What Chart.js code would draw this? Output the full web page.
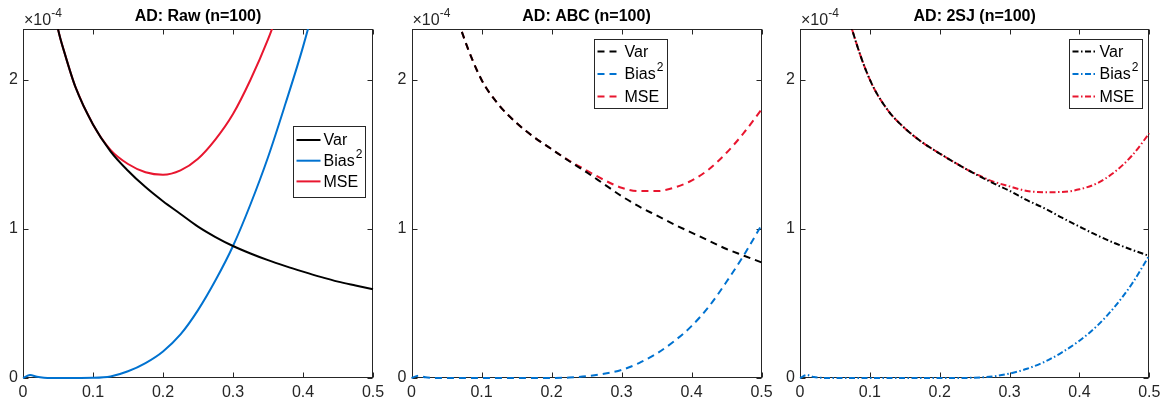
<!DOCTYPE html>
<html>
<head>
<meta charset="utf-8">
<script src="https://cdn.jsdelivr.net/npm/chart.js@4.4.1/dist/chart.umd.min.js"></script>
<style>
  body { margin: 0; background: #fff; width: 1166px; height: 404px; overflow: hidden; position: relative; }
  canvas { position: absolute; top: 0; }
</style>
</head>
<body>
<canvas id="raw" width="390" height="404" style="left:0"></canvas>
<canvas id="abc" width="390" height="404" style="left:390px"></canvas>
<canvas id="sj" width="386" height="404" style="left:780px"></canvas>
<script>
// ---- data (units of 1e-4) ----
const xVals = [0, 0.01, 0.02, 0.03, 0.04, 0.05, 0.06, 0.075, 0.1, 0.125, 0.15, 0.175, 0.2,
  0.225, 0.25, 0.275, 0.3, 0.325, 0.35, 0.375, 0.4, 0.425, 0.45, 0.475, 0.5];
const xTicks = [0, 0.1, 0.2, 0.3, 0.4, 0.5];
const yTicks = [0, 1, 2];
const yMax = 2.34;
const seriesNames = ['Var', 'Bias^2', 'MSE'];

// AD: Raw
const rawVar  = [null, 5.5, 3.8, 3.0, 2.6, 2.34, 2.17, 1.95, 1.70, 1.52, 1.39, 1.28, 1.185, 1.10,
  1.015, 0.945, 0.885, 0.835, 0.79, 0.75, 0.713, 0.678, 0.646, 0.62, 0.595];
const rawBias = [0, 0.02, 0.008, 0.002, 0, 0, 0, 0, 0.001, 0.01, 0.045, 0.10, 0.178, 0.292,
  0.455, 0.655, 0.885, 1.165, 1.48, 1.84, 2.22, 2.66, 3.14, 3.66, 4.22];
const rawMse  = [null, 5.52, 3.81, 3.0, 2.6, 2.34, 2.17, 1.95, 1.70, 1.53, 1.435, 1.38, 1.363,
  1.392, 1.47, 1.60, 1.77, 2.0, 2.27, 2.59, 2.93, 3.34, 3.79, 4.28, 4.82];

// AD: ABC
const abcVar  = [null, 6.0, 4.3, 3.4, 2.95, 2.68, 2.5, 2.28, 2.0, 1.83, 1.71, 1.615, 1.535, 1.455,
  1.38, 1.30, 1.22, 1.15, 1.09, 1.03, 0.975, 0.92, 0.865, 0.82, 0.775];
const abcBias = [0, 0.015, 0.005, 0.001, 0, 0, 0, 0, 0, 0, 0, 0, 0, 0.003,
  0.012, 0.028, 0.054, 0.10, 0.163, 0.246, 0.348, 0.48, 0.645, 0.825, 1.025];
const abcMse  = [null, 6.0, 4.3, 3.4, 2.95, 2.68, 2.5, 2.28, 2.0, 1.83, 1.71, 1.615, 1.535, 1.458,
  1.392, 1.328, 1.276, 1.253, 1.253, 1.276, 1.323, 1.40, 1.51, 1.645, 1.80];

// AD: 2SJ
const sjVar  = [null, 6.4, 4.6, 3.6, 3.0, 2.75, 2.6, 2.33, 2.0, 1.80, 1.675, 1.58, 1.505, 1.435,
  1.37, 1.31, 1.255, 1.192, 1.138, 1.075, 1.015, 0.957, 0.905, 0.86, 0.818];
const sjBias = [0, 0.02, 0.006, 0.002, 0, 0, 0, 0, 0, 0, 0, 0, 0, 0,
  0.002, 0.01, 0.03, 0.062, 0.108, 0.172, 0.25, 0.348, 0.475, 0.63, 0.822];
const sjMse  = [null, 6.42, 4.61, 3.6, 3.0, 2.75, 2.6, 2.33, 2.0, 1.80, 1.675, 1.58, 1.505, 1.435,
  1.372, 1.32, 1.285, 1.254, 1.246, 1.247, 1.265, 1.305, 1.38, 1.49, 1.64];

// ---- styles ----
const AXIS = '#262626';
const COLORS = ['#000000', '#0072D0', '#E8162F'];
const FONT = "'Liberation Sans', Arial, Helvetica, sans-serif";
Chart.defaults.font.family = FONT;
Chart.defaults.font.size = 16;
Chart.defaults.color = AXIS;

// MATLAB 風の枠・内向き目盛り・タイトル・凡例
const matlabAxes = {
  id: 'matlabAxes',
  beforeDatasetsDraw(chart, args, o) {
    const { ctx, chartArea: a, scales: { x, y } } = chart;
    const L = Math.round(a.left) + 0.5, R = Math.round(a.right) - 0.5;
    const T = Math.round(a.top) + 0.5, B = Math.round(a.bottom) - 0.5;
    ctx.save();
    ctx.strokeStyle = AXIS;
    ctx.lineWidth = 1;
    ctx.strokeRect(L, T, R - L, B - T);
    ctx.beginPath();
    xTicks.forEach((v) => {
      const px = Math.round(x.getPixelForValue(v)) + 0.5;
      ctx.moveTo(px, B); ctx.lineTo(px, B - 5);
      ctx.moveTo(px, T); ctx.lineTo(px, T + 5);
    });
    yTicks.forEach((v) => {
      const py = Math.round(y.getPixelForValue(v)) + 0.5;
      ctx.moveTo(L, py); ctx.lineTo(L + 5, py);
      ctx.moveTo(R, py); ctx.lineTo(R - 5, py);
    });
    ctx.stroke();

    // タイトル
    ctx.fillStyle = '#000';
    ctx.font = `bold 16px ${FONT}`;
    ctx.textAlign = 'center';
    ctx.textBaseline = 'alphabetic';
    ctx.fillText(o.title, (a.left + a.right) / 2, 21);

    // 指数ラベル ×10^-4
    ctx.fillStyle = AXIS;
    ctx.textAlign = 'left';
    ctx.font = `16px ${FONT}`;
    ctx.fillText('\u00d710', a.left + 1, 25);
    const w = ctx.measureText('\u00d710').width;
    ctx.font = `12px ${FONT}`;
    ctx.fillText('-4', a.left + 1 + w, 17);
    ctx.restore();
  },
  afterDraw(chart, args, o) {
    const { ctx, chartArea: a } = chart;
    const lg = o.legend;
    const left = Math.round(a.right - lg.right - lg.w) + 0.5;
    const top = Math.round(a.top + lg.top) + 0.5;
    ctx.save();
    ctx.fillStyle = '#fff';
    ctx.fillRect(left, top, lg.w, lg.h);
    ctx.strokeStyle = AXIS;
    ctx.lineWidth = 1;
    ctx.strokeRect(left, top, lg.w, lg.h);
    chart.data.datasets.forEach((ds, i) => {
      const yy = top + lg.first + i * lg.gap;
      ctx.strokeStyle = ds.borderColor;
      ctx.lineWidth = ds.borderWidth;
      ctx.setLineDash(ds.borderDash || []);
      ctx.beginPath();
      ctx.moveTo(left + 3, yy);
      ctx.lineTo(left + 27, yy);
      ctx.stroke();
      ctx.setLineDash([]);
      const [base, sup] = ds.label.split('^');
      ctx.fillStyle = '#000';
      ctx.font = `16px ${FONT}`;
      ctx.textAlign = 'left';
      ctx.textBaseline = 'middle';
      ctx.fillText(base, left + 30, yy + 1);
      if (sup) {
        const bw = ctx.measureText(base).width;
        ctx.font = `12px ${FONT}`;
        ctx.fillText(sup, left + 30 + bw + 1, yy - 6);
      }
    });
    ctx.restore();
  },
};

function makePanel(id, title, dash, vals, layout, legend) {
  const datasets = vals.map((arr, i) => ({
    label: seriesNames[i],
    data: xVals.map((x, j) => ({ x, y: arr[j] })),
    borderColor: COLORS[i],
    borderWidth: 2,
    borderDash: dash,
    pointRadius: 0,
    cubicInterpolationMode: 'monotone',
    clip: { left: 1, right: 1, top: 0, bottom: 2 },
  }));
  return new Chart(document.getElementById(id), {
    type: 'line',
    data: { datasets },
    plugins: [matlabAxes],
    options: {
      responsive: false,
      animation: false,
      layout: { padding: { top: 29, right: layout.right, left: 0, bottom: 0 } },
      plugins: {
        legend: { display: false },
        tooltip: { enabled: false },
        matlabAxes: { title, legend },
      },
      scales: {
        x: {
          type: 'linear', min: 0, max: 0.5,
          grid: { display: false, drawTicks: false },
          border: { display: false },
          afterBuildTicks: (s) => { s.ticks = xTicks.map((v) => ({ value: v })); },
          afterFit: (s) => { s.height = 26; },
          ticks: { autoSkip: false, maxRotation: 0, padding: 5, callback: (v) => String(v) },
        },
        y: {
          type: 'linear', min: 0, max: yMax,
          grid: { display: false, drawTicks: false },
          border: { display: false },
          afterBuildTicks: (s) => { s.ticks = yTicks.map((v) => ({ value: v })); },
          afterFit: (s) => { s.width = layout.yw; },
          ticks: { padding: 5, callback: (v) => String(v) },
        },
      },
    },
  });
}

makePanel('raw', 'AD: Raw (n=100)', [], [rawVar, rawBias, rawMse],
  { yw: 23, right: 17 }, { right: 8, top: 97, w: 72, h: 71, first: 13.5, gap: 20.7 });
makePanel('abc', 'AD: ABC (n=100)', [7, 5], [abcVar, abcBias, abcMse],
  { yw: 21.5, right: 18.5 }, { right: 95, top: 10, w: 73, h: 69, first: 12, gap: 22.5 });
makePanel('sj', 'AD: 2SJ (n=100)', [6, 2.5, 1.5, 2.5], [sjVar, sjBias, sjMse],
  { yw: 20, right: 16.7 }, { right: 7, top: 10, w: 73, h: 69, first: 12, gap: 22.5 });
</script>
</body>
</html>
